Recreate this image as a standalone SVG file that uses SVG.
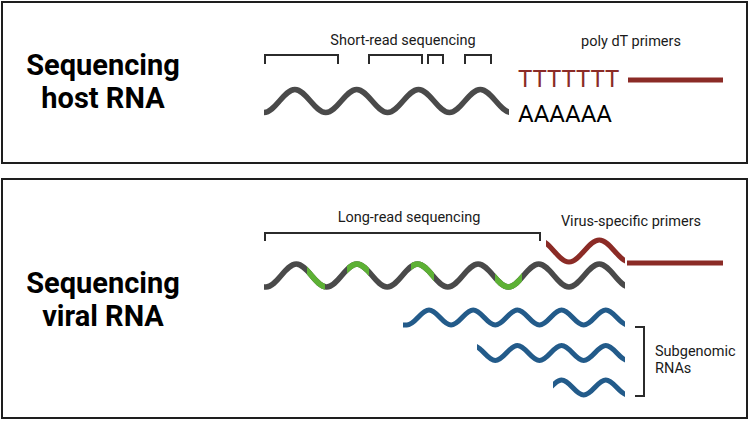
<svg xmlns="http://www.w3.org/2000/svg" xmlns:xlink="http://www.w3.org/1999/xlink" width="749" height="421" viewBox="0 0 749 421">
<style>
.panel{fill:#fff;stroke:#1e1e1e;stroke-width:2}
.title{font-family:Roboto,"Liberation Sans",sans-serif;font-weight:700;font-size:29px;fill:#000;text-anchor:middle}
.lbl{font-family:Roboto,"Liberation Sans",sans-serif;font-size:14.5px;fill:#1a1a1a}
.mid{text-anchor:middle}
.big{font-family:Roboto,"Liberation Sans",sans-serif;font-size:24px}
.brk{fill:none;stroke:#2b2b2b;stroke-width:2}
.gray{fill:none;stroke:#4a4a4a;stroke-width:5.5}
.green{fill:none;stroke:#5db135;stroke-width:5.5}
.red{fill:none;stroke:#8b2b26;stroke-width:5}
.blue{fill:none;stroke:#235b8a;stroke-width:5}
</style>
<defs>
<clipPath id="cTop"><rect x="250" y="0" width="259" height="421"/></clipPath>
<clipPath id="cGray2"><rect x="250" y="0" width="375" height="421"/></clipPath>
<clipPath id="cRed"><rect x="546" y="0" width="79" height="421"/></clipPath>
<clipPath id="cB1"><rect x="400" y="0" width="225" height="421"/></clipPath>
<clipPath id="cB2"><rect x="477" y="0" width="148" height="421"/></clipPath>
<clipPath id="cB3"><rect x="553" y="0" width="72" height="421"/></clipPath>
<clipPath id="cGreen">
<rect x="307" y="0" width="18" height="421"/>
<rect x="347" y="0" width="22" height="421"/>
<rect x="411" y="0" width="23" height="421"/>
<rect x="495" y="0" width="27" height="421"/>
</clipPath>
<path id="wave2" d="M264,287 H266 C277.04,287 285.26,264 296.3,264 S315.56,287 326.6,287 S345.86,264 356.9,264 S376.16,287 387.2,287 S406.46,264 417.5,264 S436.76,287 447.8,287 S467.06,264 478.1,264 S497.36,287 508.4,287 S527.66,264 538.7,264 S557.96,287 569,287 S588.26,264 599.3,264 S618.56,287 629.6,287"/>
</defs>

<g id="panel-host">
<rect class="panel" x="2" y="2" width="745" height="161"/>
<text class="title" x="103" y="75">Sequencing</text>
<text class="title" x="103" y="108">host RNA</text>
</g>

<g id="panel-viral">
<rect class="panel" x="2" y="179" width="745" height="239"/>
<text class="title" x="103" y="293">Sequencing</text>
<text class="title" x="103" y="326">viral RNA</text>
</g>

<g id="host-rna">
<path class="gray" clip-path="url(#cTop)" d="M264,112.5 C275.25,112.5 283.65,89.5 294.9,89.5 S314.55,112.5 325.8,112.5 S345.45,89.5 356.7,89.5 S376.35,112.5 387.6,112.5 S407.25,89.5 418.5,89.5 S438.15,112.5 449.4,112.5 S469.05,89.5 480.3,89.5 S499.95,112.5 511.2,112.5"/>
<text class="big" x="518" y="122" fill="#000">AAAAAA</text>
</g>

<g id="short-reads">
<text class="lbl mid" x="403" y="45">Short-read sequencing</text>
<path class="brk" d="M265,64 V55 H338 V64"/>
<path class="brk" d="M369,64 V55 H422 V64"/>
<path class="brk" d="M428,64 V55 H443 V64"/>
<path class="brk" d="M465,64 V55 H491 V64"/>
</g>

<g id="polydT">
<text class="lbl mid" x="631" y="46">poly dT primers</text>
<text class="big" x="518" y="87" fill="#8b2b26">TTTTTTT</text>
<line class="red" x1="628" y1="80" x2="723" y2="80"/>
</g>

<g id="viral-rna">
<use href="#wave2" xlink:href="#wave2" class="gray" clip-path="url(#cGray2)"/>
<use href="#wave2" xlink:href="#wave2" class="green" clip-path="url(#cGreen)"/>
</g>

<g id="long-read">
<text class="lbl mid" x="409" y="222">Long-read sequencing</text>
<path class="brk" d="M265,241 V233 H540 V241"/>
</g>

<g id="virus-primers">
<text class="lbl mid" x="631" y="226">Virus-specific primers</text>
<path class="red" clip-path="url(#cRed)" d="M538.7,240 C549.74,240 557.96,262 569,262 S588.26,240 599.3,240 S618.56,262 629.6,262"/>
<line class="red" x1="627" y1="263" x2="723" y2="263"/>
</g>

<g id="subgenomic">
<path class="blue" clip-path="url(#cB1)" d="M403,325 H406.9 C414.95,325 420.95,310 429,310 S443.05,325 451.1,325 S465.15,310 473.2,310 S487.25,325 495.3,325 S509.35,310 517.4,310 S531.45,325 539.5,325 S553.55,310 561.6,310 S575.65,325 583.7,325 S597.75,310 605.8,310 S619.85,325 627.9,325"/>
<path class="blue" clip-path="url(#cB2)" d="M473.2,345.5 C481.25,345.5 487.25,360.5 495.3,360.5 S509.35,345.5 517.4,345.5 S531.45,360.5 539.5,360.5 S553.55,345.5 561.6,345.5 S575.65,360.5 583.7,360.5 S597.75,345.5 605.8,345.5 S619.85,360.5 627.9,360.5"/>
<path class="blue" clip-path="url(#cB3)" d="M539.5,395 C547.55,395 553.55,380 561.6,380 S575.65,395 583.7,395 S597.75,380 605.8,380 S619.85,395 627.9,395"/>
<path class="brk" d="M635,327 H644 V396 H635"/>
<text class="lbl" x="655" y="356">Subgenomic</text>
<text class="lbl" x="655" y="373">RNAs</text>
</g>
</svg>
